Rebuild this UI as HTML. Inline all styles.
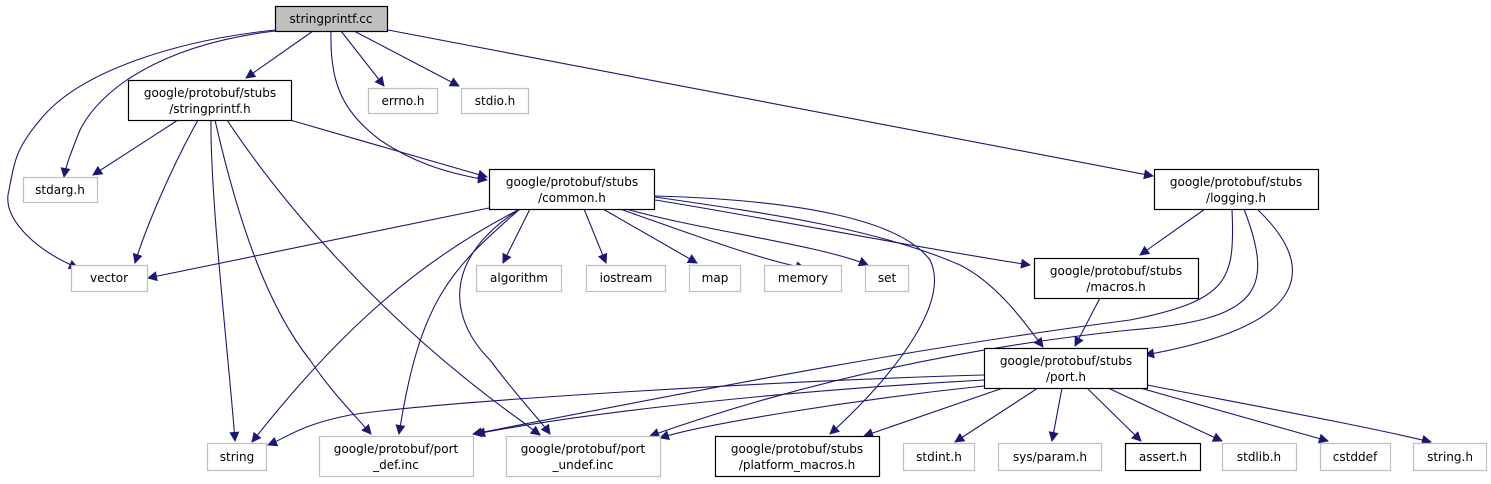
<!DOCTYPE html>
<html><head><meta charset="utf-8"><style>
html,body{margin:0;padding:0;background:#fff;}
svg{display:block;}
text{font-family:"DejaVu Sans","Liberation Sans",sans-serif;font-size:12px;fill:#000;text-anchor:middle;}
.b{fill:#fff;stroke:#000;stroke-width:1.2;}
.g{fill:#fff;stroke:#bfbfbf;stroke-width:1.2;}
.e{fill:none;stroke:#191970;stroke-width:1.1;}
</style></head><body>
<svg width="1491" height="484" viewBox="0 0 1491 484" xmlns="http://www.w3.org/2000/svg">
<defs><marker id="a" viewBox="0 0 10 10" refX="9" refY="5" markerWidth="11" markerHeight="10" markerUnits="userSpaceOnUse" orient="auto"><path d="M0,0 L10,5 L0,10 z" fill="#191970"/></marker></defs>
<g class="e" marker-end="url(#a)">
<path d="M275,30 C180,40 80,70 40,120 C15,150 15,160 8,195 C5,220 35,250 78,268"/>
<path d="M275,31 C160,45 100,90 80,130 C72,150 66,165 64,177"/>
<path d="M313,31 L246,78"/>
<path d="M331,31 C330,80 340,110 380,140 C410,160 440,172 487,180"/>
<path d="M341,31 L384,86"/>
<path d="M354,31 L459,86"/>
<path d="M388,30 L1153,176"/>
<path d="M178,120 L93,175"/>
<path d="M198,120 C170,170 145,230 135,263"/>
<path d="M211,120 C210,200 230,370 235,441"/>
<path d="M215,120 C240,230 270,310 310,360 C330,390 350,410 371,434"/>
<path d="M227,120 C280,200 380,320 520,420 L540,435"/>
<path d="M290,120 L487,177"/>
<path d="M489,208 L148,278"/>
<path d="M530,209 L503,263"/>
<path d="M584,209 L606,263"/>
<path d="M603,209 L697,263"/>
<path d="M620,209 C680,230 760,260 805,268"/>
<path d="M626,209 C700,230 820,245 868,265"/>
<path d="M655,200 C750,215 930,250 1030,265"/>
<path d="M655,197 C780,215 880,230 960,265 C1000,285 1030,330 1043,347"/>
<path d="M655,196 C800,200 900,220 930,260 C950,300 900,370 830,434"/>
<path d="M520,209 C420,260 340,330 252,442"/>
<path d="M520,209 C450,270 420,300 399,434"/>
<path d="M520,209 C440,260 450,320 490,360 C520,400 540,420 550,434"/>
<path d="M1205,209 L1140,255"/>
<path d="M1232,209 C1235,280 1230,300 1130,320 C900,350 700,390 473,434"/>
<path d="M1244,209 C1275,290 1260,320 1130,330 C940,350 780,390 650,436"/>
<path d="M1257,209 C1300,250 1340,320 1145,355"/>
<path d="M1100,298 L1075,346"/>
<path d="M984,375 C800,380 450,400 350,415 C300,425 290,436 268,445"/>
<path d="M984,380 C800,390 600,410 476,434"/>
<path d="M984,386 C850,400 700,425 660,438"/>
<path d="M1003,388 L864,436"/>
<path d="M1038,388 L955,442"/>
<path d="M1062,388 L1052,441"/>
<path d="M1087,388 L1141,441"/>
<path d="M1108,388 L1222,441"/>
<path d="M1140,388 L1328,441"/>
<path d="M1147,385 C1250,405 1360,425 1431,442"/>
</g>
<rect x="275.5" y="6.5" width="112" height="25" fill="#bfbfbf" stroke="#000" stroke-width="1.2"/>
<text x="331" y="23">stringprintf.cc</text>
<rect class="b" x="128.5" y="80.5" width="163" height="40"/>
<text x="210" y="97">google/protobuf/stubs</text><text x="210" y="113">/stringprintf.h</text>
<rect class="g" x="368.5" y="88.5" width="69" height="25"/><text x="403" y="105">errno.h</text>
<rect class="g" x="461.5" y="88.5" width="67" height="25"/><text x="495" y="105">stdio.h</text>
<rect class="g" x="23.5" y="177.5" width="74" height="25"/><text x="60" y="194">stdarg.h</text>
<rect class="b" x="489.5" y="169.5" width="165" height="40"/>
<text x="572" y="186">google/protobuf/stubs</text><text x="572" y="202">/common.h</text>
<rect class="b" x="1154.5" y="169.5" width="164" height="40"/>
<text x="1236" y="186">google/protobuf/stubs</text><text x="1236" y="202">/logging.h</text>
<rect class="g" x="71.5" y="265.5" width="76" height="26"/><text x="109" y="282">vector</text>
<rect class="g" x="476.5" y="265.5" width="85" height="26"/><text x="519" y="282">algorithm</text>
<rect class="g" x="586.5" y="265.5" width="79" height="26"/><text x="626" y="282">iostream</text>
<rect class="g" x="689.5" y="265.5" width="51" height="26"/><text x="715" y="282">map</text>
<rect class="g" x="764.5" y="265.5" width="77" height="26"/><text x="803" y="282">memory</text>
<rect class="g" x="865.5" y="265.5" width="43" height="26"/><text x="887" y="282">set</text>
<rect class="b" x="1034.5" y="258.5" width="164" height="40"/>
<text x="1116" y="275">google/protobuf/stubs</text><text x="1116" y="291">/macros.h</text>
<rect class="b" x="984.5" y="348.5" width="163" height="40"/>
<text x="1066" y="365">google/protobuf/stubs</text><text x="1066" y="381">/port.h</text>
<rect class="g" x="207.5" y="443.5" width="59" height="27"/><text x="237" y="461">string</text>
<rect class="g" x="319.5" y="436.5" width="154" height="40"/>
<text x="396" y="453">google/protobuf/port</text><text x="396" y="469">_def.inc</text>
<rect class="g" x="506.5" y="436.5" width="154" height="40"/>
<text x="583" y="453">google/protobuf/port</text><text x="583" y="469">_undef.inc</text>
<rect class="b" x="715.5" y="436.5" width="164" height="40"/>
<text x="797" y="453">google/protobuf/stubs</text><text x="797" y="469">/platform_macros.h</text>
<rect class="g" x="903.5" y="443.5" width="71" height="27"/><text x="939" y="461">stdint.h</text>
<rect class="g" x="998.5" y="443.5" width="103" height="27"/><text x="1050" y="461">sys/param.h</text>
<rect class="b" x="1125.5" y="443.5" width="75" height="27"/><text x="1163" y="461">assert.h</text>
<rect class="g" x="1222.5" y="443.5" width="74" height="27"/><text x="1259" y="461">stdlib.h</text>
<rect class="g" x="1320.5" y="443.5" width="70" height="27"/><text x="1355" y="461">cstddef</text>
<rect class="g" x="1413.5" y="443.5" width="73" height="27"/><text x="1450" y="461">string.h</text>
</svg>
</body></html>
